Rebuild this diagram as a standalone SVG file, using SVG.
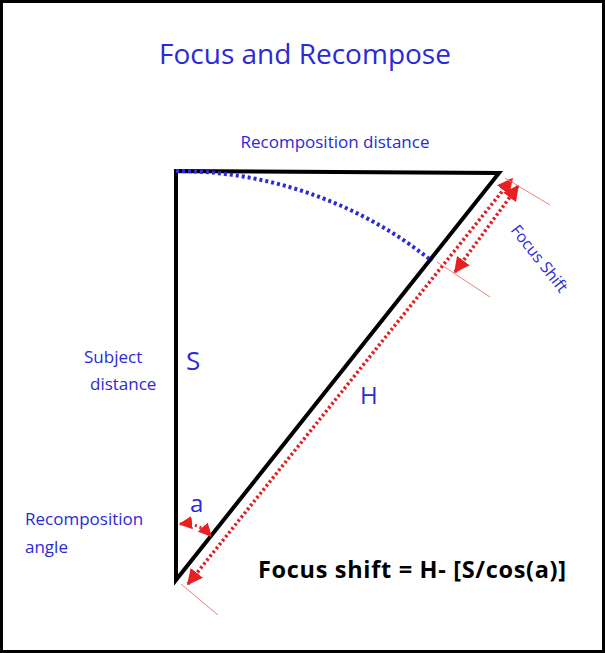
<svg xmlns="http://www.w3.org/2000/svg" width="605" height="653" viewBox="0 0 605 653">
<defs>
<style>
.b{fill:#2a2ad6;font-family:"Open Sans","Noto Sans",sans-serif}
.r{stroke:#e02020;fill:none}
.e{stroke:#f08080;stroke-width:1;fill:none}
</style>
<marker id="ah" viewBox="0 0 10 10" refX="9" refY="5" markerWidth="4.5" markerHeight="4.5" orient="auto-start-reverse"><path d="M0,0L10,5L0,10z" fill="#e82020"/></marker>
</defs>
<rect x="1.5" y="1.5" width="602" height="650" fill="#fff" stroke="#000" stroke-width="3"/>
<text class="b" x="305" y="64" font-size="28" text-anchor="middle">Focus and Recompose</text>
<g id="triangle"><path d="M176,171L499,173L176,580Z" fill="none" stroke="#000" stroke-width="4" stroke-linejoin="miter"/></g>
<g id="connectors">
<path d="M176,171A409,409 0 0 1 432,261" fill="none" stroke="#2a2ad6" stroke-width="4" stroke-dasharray="3,3"/>
<line class="r" x1="188" y1="584" x2="512" y2="179" stroke-width="3.5" stroke-dasharray="2.5,2.5" marker-start="url(#ah)" marker-end="url(#ah)"/>
<line class="r" x1="455" y1="272" x2="518" y2="186" stroke-width="3.5" stroke-dasharray="2.5,2.5" marker-start="url(#ah)" marker-end="url(#ah)"/>
<line class="e" x1="505" y1="178" x2="550" y2="205"/>
<line class="e" x1="437" y1="262" x2="490" y2="297"/>
<line class="e" x1="181" y1="584" x2="218" y2="615"/>
<path class="r" d="M180,524Q198,522 211,536" stroke-width="3" stroke-dasharray="2,3" marker-start="url(#ah)" marker-end="url(#ah)"/>
</g>
<g id="labels">
<text class="b" x="335" y="148" font-size="17" text-anchor="middle">Recomposition  distance</text>
<text class="b" x="535" y="262" font-size="16" text-anchor="middle" transform="rotate(51.6 535 262)">Focus Shift</text>
<text class="b" x="84" y="363" font-size="17">Subject</text>
<text class="b" x="90" y="390" font-size="17">distance</text>
<text class="b" x="186" y="370" font-size="26">S</text>
<text class="b" x="360" y="404" font-size="24">H</text>
<text class="b" x="190" y="512" font-size="24">a</text>
<text class="b" x="25" y="525" font-size="17">Recomposition</text>
<text class="b" x="25" y="553" font-size="17">angle</text>
<text x="258" y="578" font-size="23.5" font-weight="bold" font-family="'Open Sans','Noto Sans',sans-serif" fill="#000" textLength="308">Focus shift = H- [S/cos(a)]</text>
</g>
</svg>
